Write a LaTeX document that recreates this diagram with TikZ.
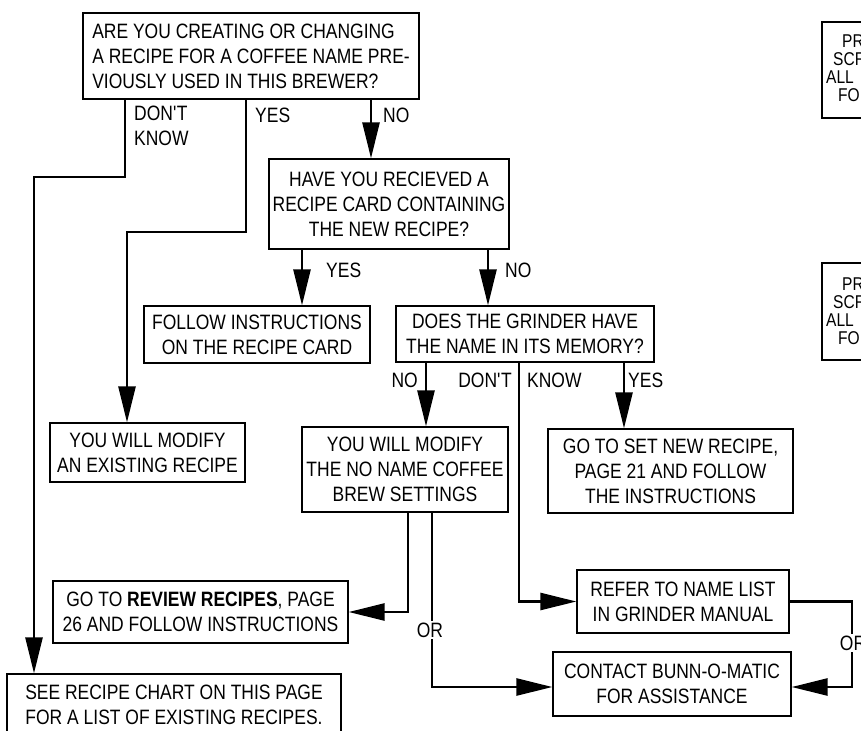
\documentclass[tikz,border=0pt]{standalone}
\usepackage{fontspec}
\setmainfont{Liberation Sans}[FakeStretch=0.84]
\usetikzlibrary{arrows.meta}
\newcommand\mybigfont{\fontsize{20.8}{25}\selectfont}
\newcommand\mysmallfont{\fontsize{18.5}{19}\selectfont}
\begin{document}
\begin{tikzpicture}[x=1pt,y=-1pt,
  box/.style={draw, line width=1.3pt, inner sep=0pt, align=center, font=\mybigfont},
  conn/.style={line width=2.6pt},
  arr/.style={conn, -{Triangle[length=36pt,width=17pt]}},
  lab/.style={font=\mybigfont, inner sep=0pt},
  orlab/.style={font=\mybigfont, fill=white, inner sep=2pt},
  frag/.style={font=\mysmallfont, inner sep=0pt, anchor=base west}]
\useasboundingbox (0,0) rectangle (861,730);

% boxes
\node[box, minimum width=336pt, minimum height=86pt, align=left] (q1) at (251,56)
  {ARE YOU CREATING OR CHANGING\\A RECIPE FOR A COFFEE NAME PRE-\\VIOUSLY USED IN THIS BREWER?};
\node[box, minimum width=240pt, minimum height=90pt] (q2) at (389,204)
  {HAVE YOU RECIEVED A\\RECIPE CARD CONTAINING\\THE NEW RECIPE?};
\node[box, minimum width=226pt, minimum height=57pt] (follow) at (257,334.5)
  {FOLLOW INSTRUCTIONS\\ON THE RECIPE CARD};
\node[box, minimum width=258pt, minimum height=56pt] (grind) at (525,334)
  {DOES THE GRINDER HAVE\\THE NAME IN ITS MEMORY?};
\node[box, minimum width=195pt, minimum height=59pt] (modex) at (147.5,452.5)
  {YOU WILL MODIFY\\AN EXISTING RECIPE};
\node[box, minimum width=206pt, minimum height=85pt] (noname) at (405,469.5)
  {YOU WILL MODIFY\\THE NO NAME COFFEE\\BREW SETTINGS};
\node[box, minimum width=245pt, minimum height=84pt] (setnew) at (670.5,471)
  {GO TO SET NEW RECIPE,\\PAGE 21 AND FOLLOW\\THE INSTRUCTIONS};
\node[box, minimum width=295pt, minimum height=62pt] (review) at (200.5,612)
  {GO TO \textbf{REVIEW RECIPES}, PAGE\\26 AND FOLLOW INSTRUCTIONS};
\node[box, minimum width=212pt, minimum height=63pt] (refer) at (683,601.5)
  {REFER TO NAME LIST\\IN GRINDER MANUAL};
\node[box, minimum width=238pt, minimum height=64pt] (contact) at (672,684)
  {CONTACT BUNN-O-MATIC\\FOR ASSISTANCE};
\node[box, minimum width=334pt, minimum height=62pt] (see) at (174,705)
  {SEE RECIPE CHART ON THIS PAGE\\FOR A LIST OF EXISTING RECIPES.};

% right-side cut boxes
\node[draw, line width=1.3pt, minimum width=80pt, minimum height=96pt, inner sep=0pt] (r1) at (862,70) {};
\node[draw, line width=1.3pt, minimum width=80pt, minimum height=97pt, inner sep=0pt] (r2) at (862,311.5) {};
\node[frag] (r1a) at (842,48) {PR};
\node[frag] (r1b) at (833,66) {SCR};
\node[frag] (r1c) at (826,84) {ALL};
\node[frag] (r1d) at (838,102) {FO};
\node[frag] (r2a) at (842,290) {PR};
\node[frag] (r2b) at (833,308) {SCR};
\node[frag] (r2c) at (826,326) {ALL};
\node[frag] (r2d) at (838,344) {FO};

% connectors
\draw[arr] (q1.south -| 125,0) |- (34,177) -- (see.north -| 34,0);
\draw[arr] (q1.south -| 246,0) |- (127,232) -- (modex.north -| 127,0);
\draw[arr] (q1.south -| 371,0) -- (q2.north -| 371,0);
\draw[arr] (q2.south -| 302,0) -- (follow.north -| 302,0);
\draw[arr] (q2.south -| 488,0) -- (grind.north -| 488,0);
\draw[arr] (grind.south -| 426,0) -- (noname.north -| 426,0);
\draw[arr] (grind.south -| 519,0) |- (refer.west);
\draw[arr] (grind.south -| 624,0) -- (setnew.north -| 624,0);
\draw[arr] (noname.south -| 408,0) |- (review.east);
\draw[arr] (noname.south -| 432,0) |- (contact.west |- 0,687);
\draw[arr] (refer.east) -- (852,601.5) |- (contact.east |- 0,687);

% labels
\node[lab, anchor=north west, align=left] (l1) at (134,106) {DON\textquotesingle T\\KNOW};
\node[lab, anchor=base west] (l2) at (255,123) {YES};
\node[lab, anchor=base west] (l3) at (383,123) {NO};
\node[lab, anchor=base west] (l4) at (326,277) {YES};
\node[lab, anchor=base west] (l5) at (505,277) {NO};
\node[lab, anchor=base east] (l6) at (418,387) {NO};
\node[lab, anchor=base east] (l7) at (512,387) {DON\textquotesingle T};
\node[lab, anchor=base west] (l8) at (527,387) {KNOW};
\node[lab, anchor=base west] (l9) at (628,387) {YES};
\node[orlab] (or1) at (430,630) {OR};
\node[orlab] (or2) at (853,643) {OR};
\end{tikzpicture}
\end{document}
